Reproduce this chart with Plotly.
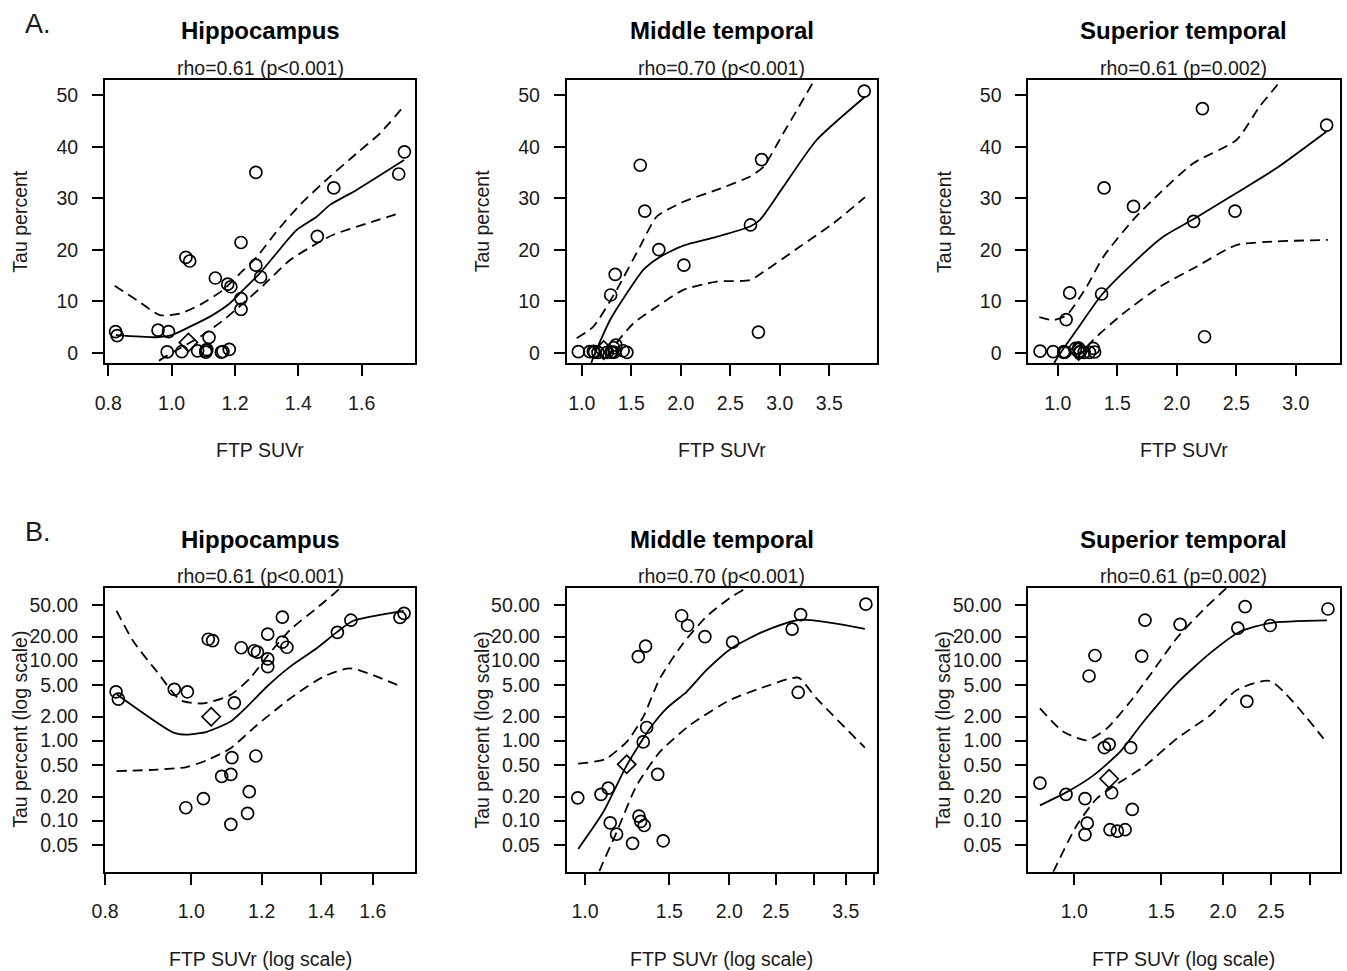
import math
import plotly.graph_objects as go

W, H = 1347, 971
FONT = "Liberation Sans, Arial, Helvetica, sans-serif"

# ---------------- data (points) ----------------
hip_suvr = [0.823, 0.828, 0.957, 0.986, 0.990, 1.032, 1.045, 1.057, 1.082, 1.108, 1.108, 1.111,
            1.118, 1.138, 1.157, 1.162, 1.177, 1.182, 1.187, 1.219, 1.219, 1.219, 1.266, 1.266,
            1.281, 1.460, 1.512, 1.717, 1.735]
hip_tau = [4.08, 3.31, 4.38, 0.145, 4.08, 0.188, 18.5, 17.8, 0.357, 0.090, 0.379, 0.614,
           2.97, 14.5, 0.123, 0.23, 13.3, 0.643, 12.8, 21.4, 10.5, 8.4, 35.0, 17.0,
           14.7, 22.6, 32.0, 34.7, 39.0]
hip_special_suvr = [1.053]
hip_special_tau = [1.99]

mt_suvr = [0.966, 1.080, 1.118, 1.129, 1.164, 1.257, 1.292, 1.296, 1.307, 1.323, 1.329, 1.338,
           1.345, 1.418, 1.456, 1.591, 1.637, 1.779, 2.032, 2.705, 2.817, 2.785, 3.854]
mt_tau = [0.193, 0.213, 0.255, 0.094, 0.068, 0.052, 11.2, 0.114, 0.098, 0.964, 0.087, 15.2,
          1.46, 0.379, 0.056, 36.4, 27.5, 20.0, 17.0, 24.8, 37.5, 4.0, 50.8]
mt_special_suvr = [1.222]
mt_special_tau = [0.506]

st_suvr = [0.852, 0.962, 1.051, 1.051, 1.062, 1.071, 1.101, 1.150, 1.176, 1.181, 1.190, 1.222,
           1.267, 1.300, 1.310, 1.369, 1.390, 1.637, 2.142, 2.216, 2.234, 2.490, 3.260]
st_tau = [0.295, 0.213, 0.188, 0.067, 0.093, 6.43, 11.6, 0.82, 0.90, 0.077, 0.223, 0.074,
          0.077, 0.82, 0.138, 11.4, 32.0, 28.4, 25.5, 47.4, 3.1, 27.5, 44.2]
st_special_suvr = [1.176]
st_special_tau = [0.334]

# ---------------- fitted curves, linear scale (row A) ----------------
a_hip_fit_x = [0.824, 0.953, 1.0, 1.058, 1.121, 1.184, 1.226, 1.278, 1.331, 1.394, 1.458, 1.5, 1.584, 1.734]
a_hip_fit_y = [3.4, 3.0, 3.4, 5.05, 7.0, 9.6, 12.2, 15.4, 19.3, 23.8, 26.4, 28.7, 31.6, 37.4]
a_hip_up_x = [0.82, 0.89, 0.963, 1.026, 1.09, 1.163, 1.216, 1.269, 1.331, 1.405, 1.5, 1.584, 1.658, 1.732]
a_hip_up_y = [13.0, 10.2, 7.3, 7.6, 9.3, 12.2, 15.4, 18.6, 23.5, 28.7, 34.2, 38.7, 42.6, 47.8]
a_hip_lo_x = [0.93, 0.953, 1.016, 1.09, 1.163, 1.226, 1.29, 1.374, 1.458, 1.51, 1.616, 1.721]
a_hip_lo_y = [-4.0, -1.9, 0.5, 3.1, 6.3, 9.6, 13.1, 18.0, 21.2, 22.9, 25.1, 27.1]

a_mt_fit_x = [1.08, 1.101, 1.286, 1.454, 1.622, 1.79, 2.027, 2.363, 2.7, 2.801, 3.036, 3.373, 3.862]
a_mt_fit_y = [-4.0, -1.75, 6.35, 11.5, 16.1, 18.6, 20.8, 22.5, 24.5, 25.8, 32.2, 41.3, 49.7]
a_mt_up_x = [0.949, 1.117, 1.353, 1.589, 1.757, 2.027, 2.363, 2.7, 2.835, 3.036, 3.339, 3.45]
a_mt_up_y = [2.8, 5.05, 12.2, 20.6, 26.4, 29.3, 31.6, 34.2, 36.1, 42.6, 52.6, 57.0]
a_mt_lo_x = [1.25, 1.303, 1.522, 1.757, 2.027, 2.363, 2.7, 2.868, 3.205, 3.541, 3.862]
a_mt_lo_y = [-4.0, 0.5, 5.7, 8.9, 12.2, 13.8, 14.1, 16.1, 20.6, 25.1, 30.2]

a_st_fit_x = [0.95, 0.977, 1.159, 1.369, 1.634, 1.886, 2.14, 2.502, 2.837, 3.257]
a_st_fit_y = [-4.0, -1.75, 4.4, 11.2, 17.4, 22.5, 25.9, 31.0, 35.8, 42.9]
a_st_up_x = [0.846, 0.964, 1.076, 1.243, 1.383, 1.634, 1.858, 2.14, 2.502, 2.697, 2.865, 2.95]
a_st_up_y = [6.9, 6.35, 7.3, 12.8, 18.6, 25.8, 31.0, 36.8, 41.3, 47.8, 52.6, 56.0]
a_st_lo_x = [1.10, 1.131, 1.299, 1.55, 1.858, 2.166, 2.502, 2.837, 3.27]
a_st_lo_y = [-4.0, -1.9, 2.5, 7.6, 12.8, 16.7, 20.9, 21.6, 21.9]

# ---------------- fitted curves, log scale (row B) ----------------
b_hip_fit_x = [0.825, 0.955, 0.988, 1.041, 1.106, 1.155, 1.216, 1.292, 1.384, 1.458, 1.521, 1.733]
b_hip_fit_y = [3.78, 1.26, 1.19, 1.29, 1.72, 2.65, 4.72, 8.41, 14.3, 22.7, 31.5, 42.0]
b_hip_up_x = [0.824, 0.861, 0.915, 0.972, 1.032, 1.106, 1.164, 1.216, 1.292, 1.384, 1.471, 1.52]
b_hip_up_y = [42.0, 17.3, 7.28, 3.21, 2.92, 3.71, 6.0, 11.2, 24.3, 45.4, 81.0, 130.0]
b_hip_lo_x = [0.824, 0.915, 0.988, 1.041, 1.106, 1.185, 1.292, 1.408, 1.509, 1.723]
b_hip_lo_y = [0.417, 0.434, 0.468, 0.568, 0.796, 1.56, 3.37, 6.3, 8.02, 4.72]

b_mt_fit_x = [0.968, 1.092, 1.222, 1.366, 1.48, 1.629, 1.794, 2.022, 2.354, 2.807, 3.835]
b_mt_fit_y = [0.0443, 0.128, 0.491, 1.42, 2.53, 4.08, 7.65, 14.3, 23.1, 32.4, 25.0]
b_mt_up_x = [0.968, 1.101, 1.222, 1.323, 1.433, 1.603, 1.794, 2.006, 2.156, 2.3]
b_mt_up_y = [0.515, 0.585, 0.964, 1.98, 6.0, 16.5, 35.7, 60.7, 79.4, 110.0]
b_mt_lo_x = [1.05, 1.071, 1.164, 1.282, 1.433, 1.655, 2.006, 2.431, 2.785, 3.041, 3.835]
b_mt_lo_y = [0.015, 0.023, 0.0716, 0.276, 0.722, 1.56, 3.21, 4.96, 6.12, 3.37, 0.819]

b_st_fit_x = [0.852, 0.965, 1.093, 1.237, 1.38, 1.612, 1.883, 2.166, 2.49, 3.244]
b_st_fit_y = [0.155, 0.227, 0.368, 0.722, 1.72, 5.2, 12.4, 23.1, 29.5, 31.8]
b_st_up_x = [0.852, 0.95, 1.06, 1.163, 1.297, 1.423, 1.612, 1.825, 2.034, 2.2]
b_st_up_y = [2.53, 1.29, 1.01, 1.42, 3.06, 6.62, 19.1, 43.3, 81.0, 120.0]
b_st_lo_x = [0.88, 0.907, 1.011, 1.11, 1.237, 1.38, 1.612, 1.883, 2.132, 2.49, 3.193]
b_st_lo_y = [0.015, 0.023, 0.087, 0.188, 0.303, 0.468, 1.06, 2.08, 4.29, 5.56, 1.06]

# ---------------- text ----------------
regions = ["Hippocampus", "Middle temporal", "Superior temporal"]
rho_text = ["rho=0.61 (p<0.001)", "rho=0.70 (p<0.001)", "rho=0.61 (p=0.002)"]
panel_letters = ["A.", "B."]
xtitles = ["FTP SUVr", "FTP SUVr (log scale)"]
ytitles = ["Tau percent", "Tau percent (log scale)"]

a_x_ticks = [[0.8, 1.0, 1.2, 1.4, 1.6], [1.0, 1.5, 2.0, 2.5, 3.0, 3.5], [1.0, 1.5, 2.0, 2.5, 3.0]]
a_y_ticks = [0, 10, 20, 30, 40, 50]
b_x_ticks = [[0.8, 1.0, 1.2, 1.4, 1.6], [1.0, 1.5, 2.0, 2.5, 3.0, 3.5, 4.0], [1.0, 1.5, 2.0, 2.5, 3.0]]
b_x_labels = [["0.8", "1.0", "1.2", "1.4", "1.6"],
              ["1.0", "1.5", "2.0", "2.5", "", "3.5", ""],
              ["1.0", "1.5", "2.0", "2.5", ""]]
b_y_ticks = [0.05, 0.1, 0.2, 0.5, 1, 2, 5, 10, 20, 50]

# ---------------- layout geometry (pixels) ----------------
col_px = [(105, 415), (566.7, 876.7), (1028.3, 1339.5)]
row_px = [(80, 363.3), (588, 871.7)]
a_x_range = [[0.7896, 1.7684], [0.848, 3.98], [0.753, 3.368]]
a_y_range = [-2.06, 52.95]
b_x_range = [[0.7998, 1.785], [0.916, 4.06], [0.807, 3.44]]
b_y_range = [0.0230, 80.9]

fig = go.Figure()

points = [(hip_suvr, hip_tau, hip_special_suvr, hip_special_tau),
          (mt_suvr, mt_tau, mt_special_suvr, mt_special_tau),
          (st_suvr, st_tau, st_special_suvr, st_special_tau)]
a_curves = [((a_hip_fit_x, a_hip_fit_y), (a_hip_up_x, a_hip_up_y), (a_hip_lo_x, a_hip_lo_y)),
            ((a_mt_fit_x, a_mt_fit_y), (a_mt_up_x, a_mt_up_y), (a_mt_lo_x, a_mt_lo_y)),
            ((a_st_fit_x, a_st_fit_y), (a_st_up_x, a_st_up_y), (a_st_lo_x, a_st_lo_y))]
b_curves = [((b_hip_fit_x, b_hip_fit_y), (b_hip_up_x, b_hip_up_y), (b_hip_lo_x, b_hip_lo_y)),
            ((b_mt_fit_x, b_mt_fit_y), (b_mt_up_x, b_mt_up_y), (b_mt_lo_x, b_mt_lo_y)),
            ((b_st_fit_x, b_st_fit_y), (b_st_up_x, b_st_up_y), (b_st_lo_x, b_st_lo_y))]

DASH = "10px,6px"
TXT = "#1a1a1a"
axis_common = dict(showline=True, mirror=True, linecolor="black", linewidth=1.8,
                   ticks="outside", ticklen=11, tickwidth=1.5, tickcolor="black",
                   showgrid=False, zeroline=False, automargin=False,
                   tickfont=dict(family=FONT, size=19.5, color=TXT))

annotations = []
k = 0
for r in range(2):
    for c in range(3):
        k += 1
        xa = "x" if k == 1 else f"x{k}"
        ya = "y" if k == 1 else f"y{k}"
        xl = "xaxis" if k == 1 else f"xaxis{k}"
        yl = "yaxis" if k == 1 else f"yaxis{k}"
        x0, x1 = col_px[c]
        t0, t1 = row_px[r]
        xdom = [x0 / W, x1 / W]
        ydom = [1 - t1 / H, 1 - t0 / H]
        curves = a_curves[c] if r == 0 else b_curves[c]
        (fx, fy), (ux, uy), (lx, ly) = curves
        fig.add_trace(go.Scatter(x=fx, y=fy, mode="lines", xaxis=xa, yaxis=ya,
                                 line=dict(color="black", width=1.8, shape="spline", smoothing=0.6),
                                 showlegend=False, hoverinfo="skip"))
        for cx, cy in ((ux, uy), (lx, ly)):
            fig.add_trace(go.Scatter(x=cx, y=cy, mode="lines", xaxis=xa, yaxis=ya,
                                     line=dict(color="black", width=1.8, dash=DASH,
                                               shape="spline", smoothing=0.6),
                                     showlegend=False, hoverinfo="skip"))
        px_, py_, sx, sy = points[c]
        fig.add_trace(go.Scatter(x=px_, y=py_, mode="markers", xaxis=xa, yaxis=ya,
                                 marker=dict(symbol="circle-open", size=12, color="black",
                                             line=dict(width=1.7, color="black")),
                                 showlegend=False))
        fig.add_trace(go.Scatter(x=sx, y=sy, mode="markers", xaxis=xa, yaxis=ya,
                                 marker=dict(symbol="diamond-open", size=14, color="black",
                                             line=dict(width=1.7, color="black")),
                                 showlegend=False))
        if r == 0:
            xaxis = dict(axis_common, domain=xdom, anchor=ya, range=a_x_range[c],
                         tickvals=a_x_ticks[c], ticktext=[f"{v:.1f}" for v in a_x_ticks[c]],
                         ticklabelstandoff=10)
            yaxis = dict(axis_common, domain=ydom, anchor=xa, range=a_y_range,
                         tickvals=a_y_ticks, ticktext=[str(v) for v in a_y_ticks],
                         ticklabelstandoff=10)
        else:
            xaxis = dict(axis_common, domain=xdom, anchor=ya, type="log",
                         range=[math.log10(b_x_range[c][0]), math.log10(b_x_range[c][1])],
                         tickvals=b_x_ticks[c], ticktext=b_x_labels[c], ticklabelstandoff=10)
            yaxis = dict(axis_common, domain=ydom, anchor=xa, type="log",
                         range=[math.log10(b_y_range[0]), math.log10(b_y_range[1])],
                         tickvals=b_y_ticks, ticktext=[f"{v:.2f}" for v in b_y_ticks],
                         ticklabelstandoff=10)
        fig.update_layout({xl: xaxis, yl: yaxis})

        cxp = (x0 + x1) / 2
        cyp = (t0 + t1) / 2
        annotations.append(dict(text=f"<b>{regions[c]}</b>", x=cxp / W, y=1 - (t0 - 49) / H,
                                xref="paper", yref="paper", showarrow=False,
                                xanchor="center", yanchor="middle",
                                font=dict(family=FONT, size=24, color="black")))
        annotations.append(dict(text=rho_text[c], x=cxp / W, y=1 - (t0 - 12) / H,
                                xref="paper", yref="paper", showarrow=False,
                                xanchor="center", yanchor="middle",
                                font=dict(family=FONT, size=19.5, color=TXT)))
        annotations.append(dict(text=xtitles[r], x=cxp / W, y=1 - (t1 + 87) / H,
                                xref="paper", yref="paper", showarrow=False,
                                xanchor="center", yanchor="middle",
                                font=dict(family=FONT, size=19.5, color=TXT)))
        annotations.append(dict(text=ytitles[r], x=(x0 - 85) / W, y=1 - cyp / H,
                                xref="paper", yref="paper", showarrow=False, textangle=-90,
                                xanchor="center", yanchor="middle",
                                font=dict(family=FONT, size=19.5, color=TXT)))
    annotations.append(dict(text=panel_letters[r], x=38 / W, y=1 - (row_px[r][0] - 56) / H,
                            xref="paper", yref="paper", showarrow=False,
                            xanchor="center", yanchor="middle",
                            font=dict(family=FONT, size=27, color=TXT)))

fig.update_layout(template="none", width=W, height=H, margin=dict(l=0, r=0, t=0, b=0, pad=0),
                  paper_bgcolor="white", plot_bgcolor="white",
                  annotations=annotations, showlegend=False)

fig.write_html("out.html")
